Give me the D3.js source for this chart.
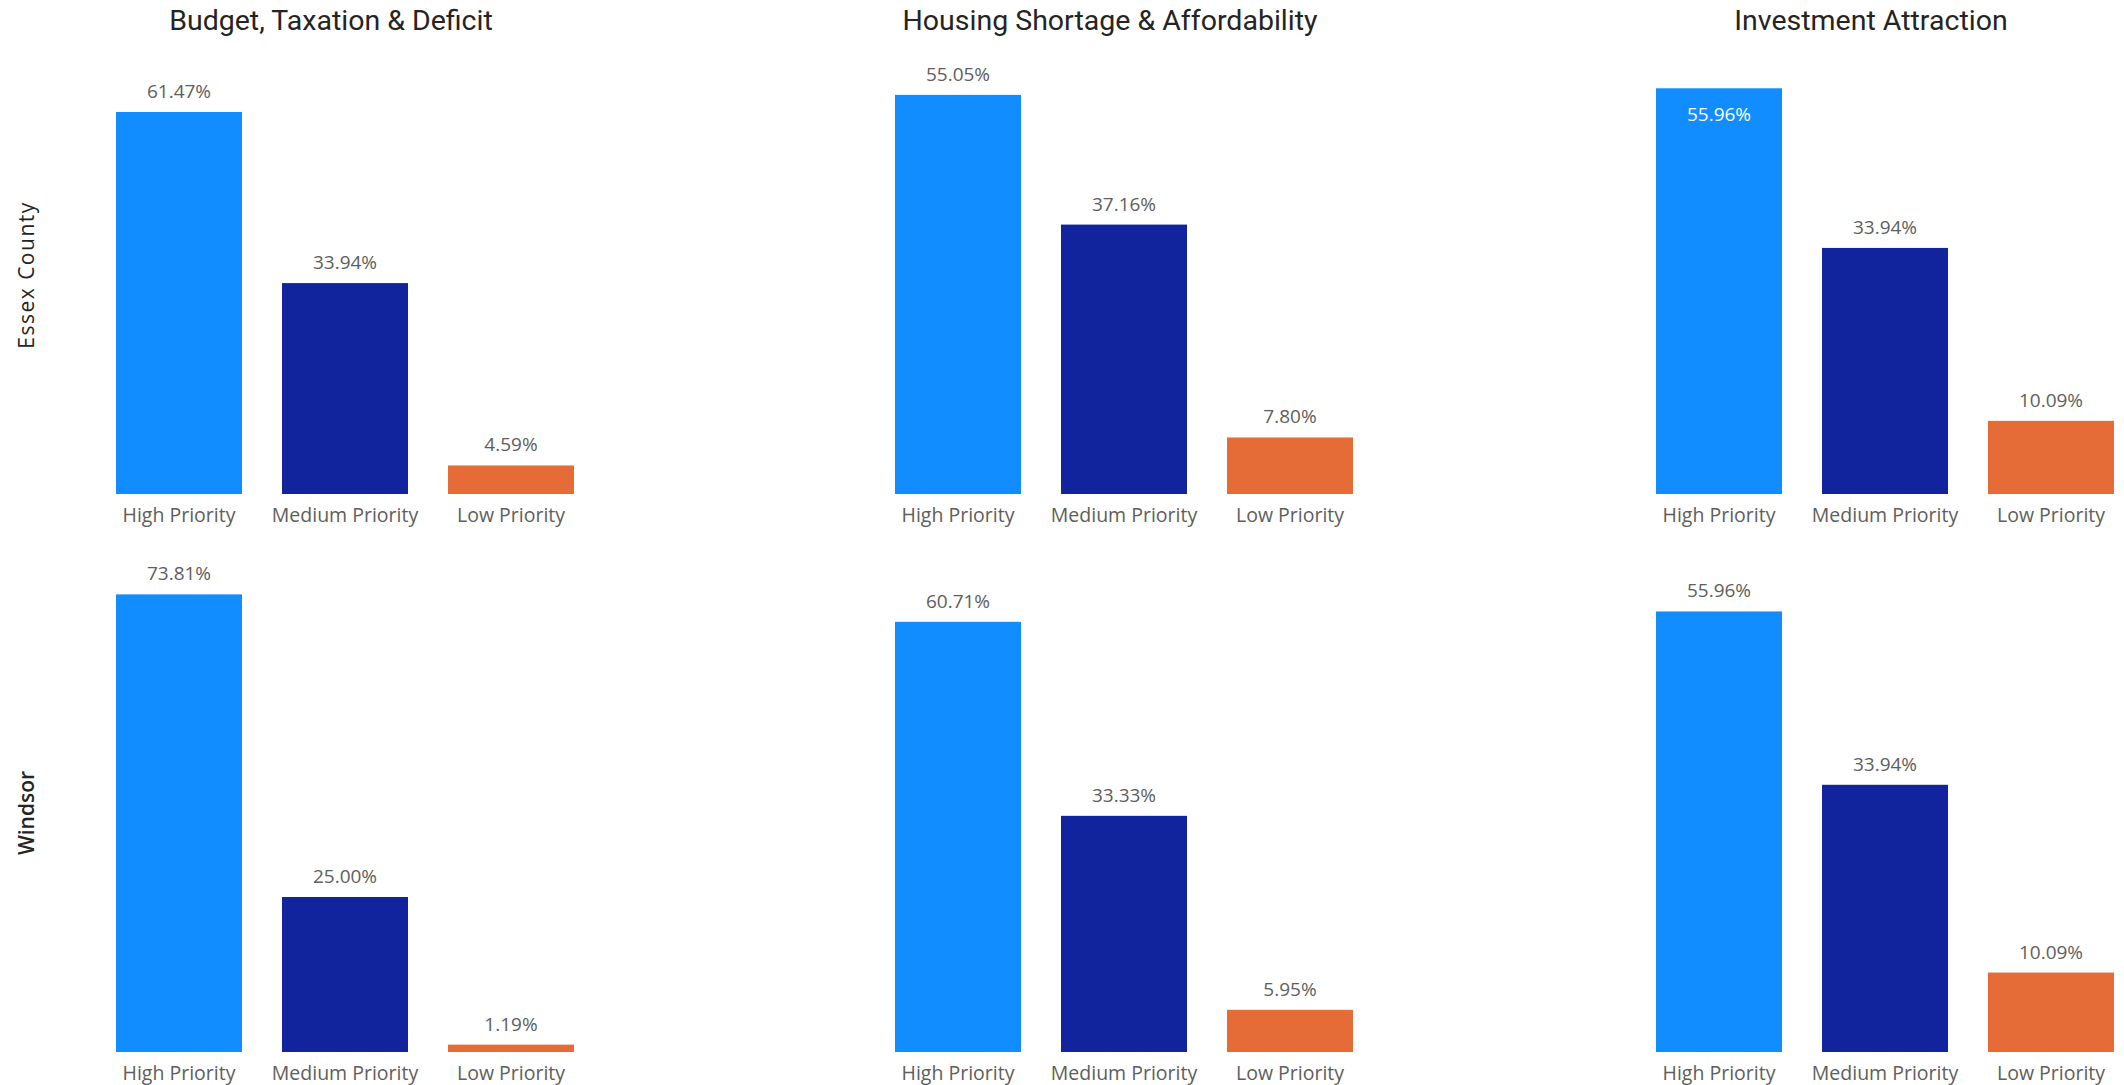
<!DOCTYPE html>
<html>
<head>
<meta charset="utf-8">
<script src="https://cdn.jsdelivr.net/npm/d3@7"></script>
<style>
  body { margin: 0; background: #fff; }
  .title { font-family: Roboto, sans-serif; font-size: 28.5px; fill: #252423; }
  .row-label { font-family: "Open Sans", sans-serif; font-size: 21px; fill: #252423; }
  .val { font-family: "Open Sans", sans-serif; font-size: 19px; fill: #605E5C; }
  .val.inside { fill: #fff; }
  .axis text { font-family: "Open Sans", sans-serif; font-size: 19.5px; fill: #605E5C; }
</style>
</head>
<body>
<div id="chart"></div>
<script>
var W = 2124, H = 1085

var topics = ['Budget, Taxation & Deficit', 'Housing Shortage & Affordability', 'Investment Attraction']
var regions = ['Essex County', 'Windsor']
var priorities = ['High Priority', 'Medium Priority', 'Low Priority']
var colors = ['#118DFF', '#12239E', '#E66C37']

// values in %, [topic][priority]
var essex = [
  [61.47, 33.94, 4.59],
  [55.05, 37.16, 7.80],
  [55.96, 33.94, 10.09]
]
var windsor = [
  [73.81, 25.00, 1.19],
  [60.71, 33.33, 5.95],
  [55.96, 33.94, 10.09]
]
// y axis max for each panel (axis itself hidden)
var essexMax = [70, 60, 60]
var windsorMax = [80, 70, 63]

var values = [essex, windsor]
var axisMax = [essexMax, windsorMax]

// layout
var colLeft = [116, 895, 1656]
var plotW = 458
var rows = [{top: 59, base: 494, labelY: 275, spacing: 1.5, weight: 400},
            {top: 556, base: 1052, labelY: 813, spacing: 0, weight: 600}]

var svg = d3.select('#chart').append('svg')
  .attr('width', W).attr('height', H)

var x = d3.scaleBand().domain(priorities).range([0, plotW])
  .paddingInner(40 / 166).paddingOuter(0)

topics.forEach(function(t, ci){
  svg.append('text').attr('class', 'title')
    .attr('x', colLeft[ci] + plotW / 2 - 14).attr('y', 30)
    .attr('text-anchor', 'middle')
    .text(t)
})

regions.forEach(function(r, ri){
  var row = rows[ri]
  svg.append('text').attr('class', 'row-label')
    .attr('transform', 'translate(27,' + row.labelY + ') rotate(-90)')
    .attr('text-anchor', 'middle').attr('dy', '0.35em')
    .style('letter-spacing', row.spacing + 'px')
    .style('font-weight', row.weight)
    .text(r)

  topics.forEach(function(t, ci){
    var ph = row.base - row.top
    var y = d3.scaleLinear().domain([0, axisMax[ri][ci]]).range([ph, 0])
    var g = svg.append('g').attr('transform', 'translate(' + colLeft[ci] + ',' + row.top + ')')
    var data = priorities.map(function(p, i){ return {p: p, v: values[ri][ci][i], c: colors[i]} })

    g.selectAll('rect').data(data).enter().append('rect')
      .attr('x', function(d){ return x(d.p) })
      .attr('width', x.bandwidth())
      .attr('y', function(d){ return y(d.v) })
      .attr('height', function(d){ return ph - y(d.v) })
      .attr('fill', function(d){ return d.c })

    // label goes inside the bar when there is no room above it
    g.selectAll('text.val').data(data).enter().append('text')
      .attr('class', function(d){ return y(d.v) < 32 ? 'val inside' : 'val' })
      .attr('x', function(d){ return x(d.p) + x.bandwidth() / 2 })
      .attr('y', function(d){ return y(d.v) < 32 ? y(d.v) + 33 : y(d.v) - 14 })
      .attr('text-anchor', 'middle')
      .text(function(d){ return d.v.toFixed(2) + '%' })

    var ax = g.append('g').attr('class', 'axis')
      .attr('transform', 'translate(0,' + ph + ')')
      .call(d3.axisBottom(x).tickSize(0).tickPadding(14))
    ax.select('.domain').remove()
  })
})
</script>
</body>
</html>
